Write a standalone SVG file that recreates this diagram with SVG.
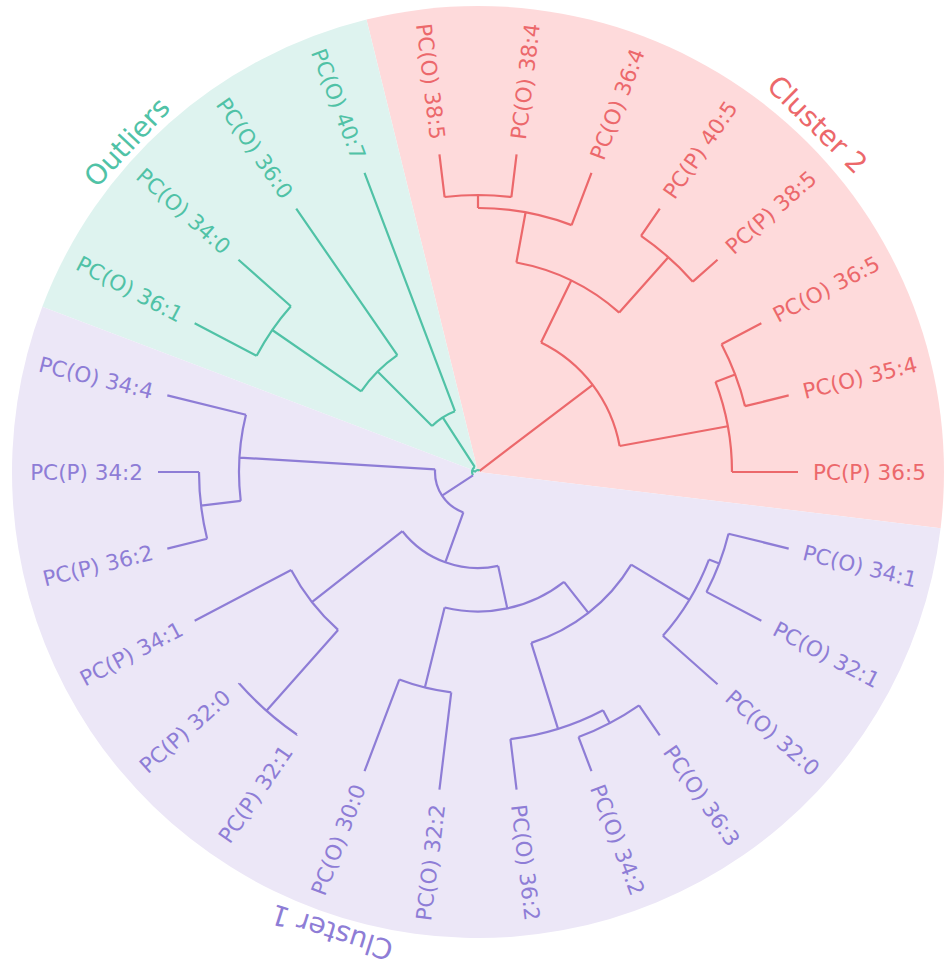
<svg xmlns="http://www.w3.org/2000/svg" width="945" height="969" viewBox="0 0 945 969">
<style>
.lk{fill:none;stroke-width:2.2;stroke-linecap:butt;stroke-linejoin:miter}
.r{stroke:#EC686B}.t{stroke:#50C2A6}.p{stroke:#8E7DD6}
.lab{font-family:"DejaVu Sans",sans-serif;font-size:21.5px;dominant-baseline:central}
.end{text-anchor:end}
.cl{font-family:"DejaVu Sans",sans-serif;font-size:28px;text-anchor:middle}
.fr{fill:#EC686B}.ft{fill:#50C2A6}.fp{fill:#8E7DD6}
</style>
<rect width="945" height="969" fill="#ffffff"/>
<g id="sectors">
<path d="M478 472 L366.48 19.54 A466 466 0 0 1 940.60 528.17 Z" fill="#FEDADB"/>
<path d="M478 472 L42.28 306.76 A466 466 0 0 1 366.48 19.54 Z" fill="#DEF3EF"/>
<path d="M478 472 L940.60 528.17 A466 466 0 1 1 42.28 306.76 Z" fill="#ECE7F7"/>
</g>
<g id="connectors">
<g class="lk r">
<path d="M439.43 154.33 L444.61 197.02 M516.57 154.33 L511.39 197.02 M444.61 197.02 A277 277 0 0 1 511.39 197.02 M478 195 L478 208"/>
<path d="M591.47 172.79 L571.61 225.15 M478 208 A264 264 0 0 1 571.61 225.15 M525.59 212.32 L516.40 262.48"/>
<path d="M659.78 208.65 L641.03 235.80 M717.52 259.80 L692.82 281.68 M641.03 235.80 A287 287 0 0 1 692.82 281.68 M668.32 257.18 L619.24 312.57"/>
<path d="M516.40 262.48 A213 213 0 0 1 619.24 312.57 M571.25 280.50 L541.04 342.53"/>
<path d="M761.35 323.29 L721.50 344.20 M788.70 395.42 L745.01 406.19 M721.50 344.20 A275 275 0 0 1 745.01 406.19 M735.13 374.48 L715.50 381.93"/>
<path d="M798 472 L732 472 M715.50 381.93 A254 254 0 0 1 732 472 M727.84 426.21 L619.64 446.04"/>
<path d="M541.04 342.53 A144 144 0 0 1 619.64 446.04 M592.68 384.91 L479.59 470.79"/>
</g>
<g class="lk t">
<path d="M364.53 172.79 L454.95 411.22 M296.22 208.65 L397.34 355.14 M238.48 259.80 L290.87 306.22 M194.65 323.29 L256.63 355.82"/>
<path d="M256.63 355.82 A250 250 0 0 1 290.87 306.22 M272.25 329.98 L361.14 391.34"/>
<path d="M361.14 391.34 A142 142 0 0 1 397.34 355.14 M377.59 371.59 L432.04 426.04"/>
<path d="M432.04 426.04 A65 65 0 0 1 454.95 411.22 M442.71 417.42 L474.74 466.96"/>
<path d="M472.99 475.30 A6 6 0 0 1 474.74 466.96 M472.13 470.76 L476.04 471.59 M476.04 471.59 A2 2 0 0 1 479.59 470.79"/>
</g>
<g class="lk p">
<path d="M167.30 395.42 L245.95 414.80 M158 472 L199 472 M167.30 548.58 L207.11 538.77 M207.11 538.77 A279 279 0 0 1 199 472 M201.03 505.63 L240.74 500.81"/>
<path d="M240.74 500.81 A239 239 0 0 1 245.95 414.80 M239.44 457.57 L435.08 469.40"/>
<path d="M194.65 620.71 L291.17 570.06 M238.48 684.20 L239.23 683.54 M296.22 735.35 L296.79 734.53 M296.79 734.53 A319 319 0 0 1 239.23 683.54 M266.46 710.77 L338.08 629.94"/>
<path d="M338.08 629.94 A211 211 0 0 1 291.17 570.06 M311.91 602.13 L402.43 531.21"/>
<path d="M364.53 771.21 L399.28 679.57 M439.43 789.67 L451.24 692.38 M451.24 692.38 A222 222 0 0 1 399.28 679.57 M424.87 687.55 L444.61 607.45"/>
<path d="M516.57 789.67 L510.43 739.04 M591.47 771.21 L578.53 737.08 M659.78 735.35 L639.05 705.31 M639.05 705.31 A283.5 283.5 0 0 1 578.53 737.08 M609.75 723.03 L603.01 710.19"/>
<path d="M603.01 710.19 A269 269 0 0 1 510.43 739.04 M558.03 728.82 L531.25 642.90"/>
<path d="M717.52 684.20 L662.88 635.79 M761.35 620.71 L706.45 591.90 M788.70 548.58 L728.50 533.74 M728.50 533.74 A258 258 0 0 1 706.45 591.90 M719.24 563.49 L708.95 559.59"/>
<path d="M708.95 559.59 A247 247 0 0 1 662.88 635.79 M689.38 599.78 L631.19 564.60"/>
<path d="M631.19 564.60 A179 179 0 0 1 531.25 642.90 M588.39 612.91 L564.03 581.81"/>
<path d="M564.03 581.81 A139.5 139.5 0 0 1 444.61 607.45 M507.28 608.39 L498.15 565.86"/>
<path d="M498.15 565.86 A96 96 0 0 1 402.43 531.21 M445.32 562.26 L463.36 512.43"/>
<path d="M463.36 512.43 A43 43 0 0 1 435.08 469.40 M442.07 495.62 L472.99 475.30"/>
</g>
</g>
<g id="leaves">
<g id="n-PCP-36-5"><text class="lab fr" x="813" y="472" transform="rotate(0 478 472)">PC(P) 36:5</text></g>
<g id="n-PCO-35-4"><text class="lab fr" x="813" y="472" transform="rotate(-13.846 478 472)">PC(O) 35:4</text></g>
<g id="n-PCO-36-5"><text class="lab fr" x="813" y="472" transform="rotate(-27.692 478 472)">PC(O) 36:5</text></g>
<g id="n-PCP-38-5"><text class="lab fr" x="813" y="472" transform="rotate(-41.538 478 472)">PC(P) 38:5</text></g>
<g id="n-PCP-40-5"><text class="lab fr" x="813" y="472" transform="rotate(-55.385 478 472)">PC(P) 40:5</text></g>
<g id="n-PCO-36-4"><text class="lab fr" x="813" y="472" transform="rotate(-69.231 478 472)">PC(O) 36:4</text></g>
<g id="n-PCO-38-4"><text class="lab fr" x="813" y="472" transform="rotate(-83.077 478 472)">PC(O) 38:4</text></g>
<g id="n-PCO-38-5"><text class="lab fr end" x="813" y="472" transform="rotate(-96.923 478 472) rotate(180 813 472)">PC(O) 38:5</text></g>
<g id="n-PCO-40-7"><text class="lab ft end" x="813" y="472" transform="rotate(-110.769 478 472) rotate(180 813 472)">PC(O) 40:7</text></g>
<g id="n-PCO-36-0"><text class="lab ft end" x="813" y="472" transform="rotate(-124.615 478 472) rotate(180 813 472)">PC(O) 36:0</text></g>
<g id="n-PCO-34-0"><text class="lab ft end" x="813" y="472" transform="rotate(-138.462 478 472) rotate(180 813 472)">PC(O) 34:0</text></g>
<g id="n-PCO-36-1"><text class="lab ft end" x="813" y="472" transform="rotate(-152.308 478 472) rotate(180 813 472)">PC(O) 36:1</text></g>
<g id="n-PCO-34-4"><text class="lab fp end" x="813" y="472" transform="rotate(-166.154 478 472) rotate(180 813 472)">PC(O) 34:4</text></g>
<g id="n-PCP-34-2"><text class="lab fp end" x="813" y="472" transform="rotate(180 478 472) rotate(180 813 472)">PC(P) 34:2</text></g>
<g id="n-PCP-36-2"><text class="lab fp end" x="813" y="472" transform="rotate(166.154 478 472) rotate(180 813 472)">PC(P) 36:2</text></g>
<g id="n-PCP-34-1"><text class="lab fp end" x="813" y="472" transform="rotate(152.308 478 472) rotate(180 813 472)">PC(P) 34:1</text></g>
<g id="n-PCP-32-0"><text class="lab fp end" x="813" y="472" transform="rotate(138.462 478 472) rotate(180 813 472)">PC(P) 32:0</text></g>
<g id="n-PCP-32-1"><text class="lab fp end" x="813" y="472" transform="rotate(124.615 478 472) rotate(180 813 472)">PC(P) 32:1</text></g>
<g id="n-PCO-30-0"><text class="lab fp end" x="813" y="472" transform="rotate(110.769 478 472) rotate(180 813 472)">PC(O) 30:0</text></g>
<g id="n-PCO-32-2"><text class="lab fp end" x="813" y="472" transform="rotate(96.923 478 472) rotate(180 813 472)">PC(O) 32:2</text></g>
<g id="n-PCO-36-2"><text class="lab fp" x="813" y="472" transform="rotate(83.077 478 472)">PC(O) 36:2</text></g>
<g id="n-PCO-34-2"><text class="lab fp" x="813" y="472" transform="rotate(69.231 478 472)">PC(O) 34:2</text></g>
<g id="n-PCO-36-3"><text class="lab fp" x="813" y="472" transform="rotate(55.385 478 472)">PC(O) 36:3</text></g>
<g id="n-PCO-32-0"><text class="lab fp" x="813" y="472" transform="rotate(41.538 478 472)">PC(O) 32:0</text></g>
<g id="n-PCO-32-1"><text class="lab fp" x="813" y="472" transform="rotate(27.692 478 472)">PC(O) 32:1</text></g>
<g id="n-PCO-34-1"><text class="lab fp" x="813" y="472" transform="rotate(13.846 478 472)">PC(O) 34:1</text></g>
</g>
<g id="cluster-labels">
<g id="cluster-2"><text class="cl fr" x="810.64" y="131.52" transform="rotate(44.3 810.64 131.52)">Cluster 2</text></g>
<g id="outliers"><text class="cl ft" x="133.93" y="148.89" transform="rotate(-46.8 133.93 148.89)">Outliers</text></g>
<g id="cluster-1"><text class="cl fp" x="334.98" y="922.86" transform="rotate(197.6 334.98 922.86)">Cluster 1</text></g>
</g>
</svg>
